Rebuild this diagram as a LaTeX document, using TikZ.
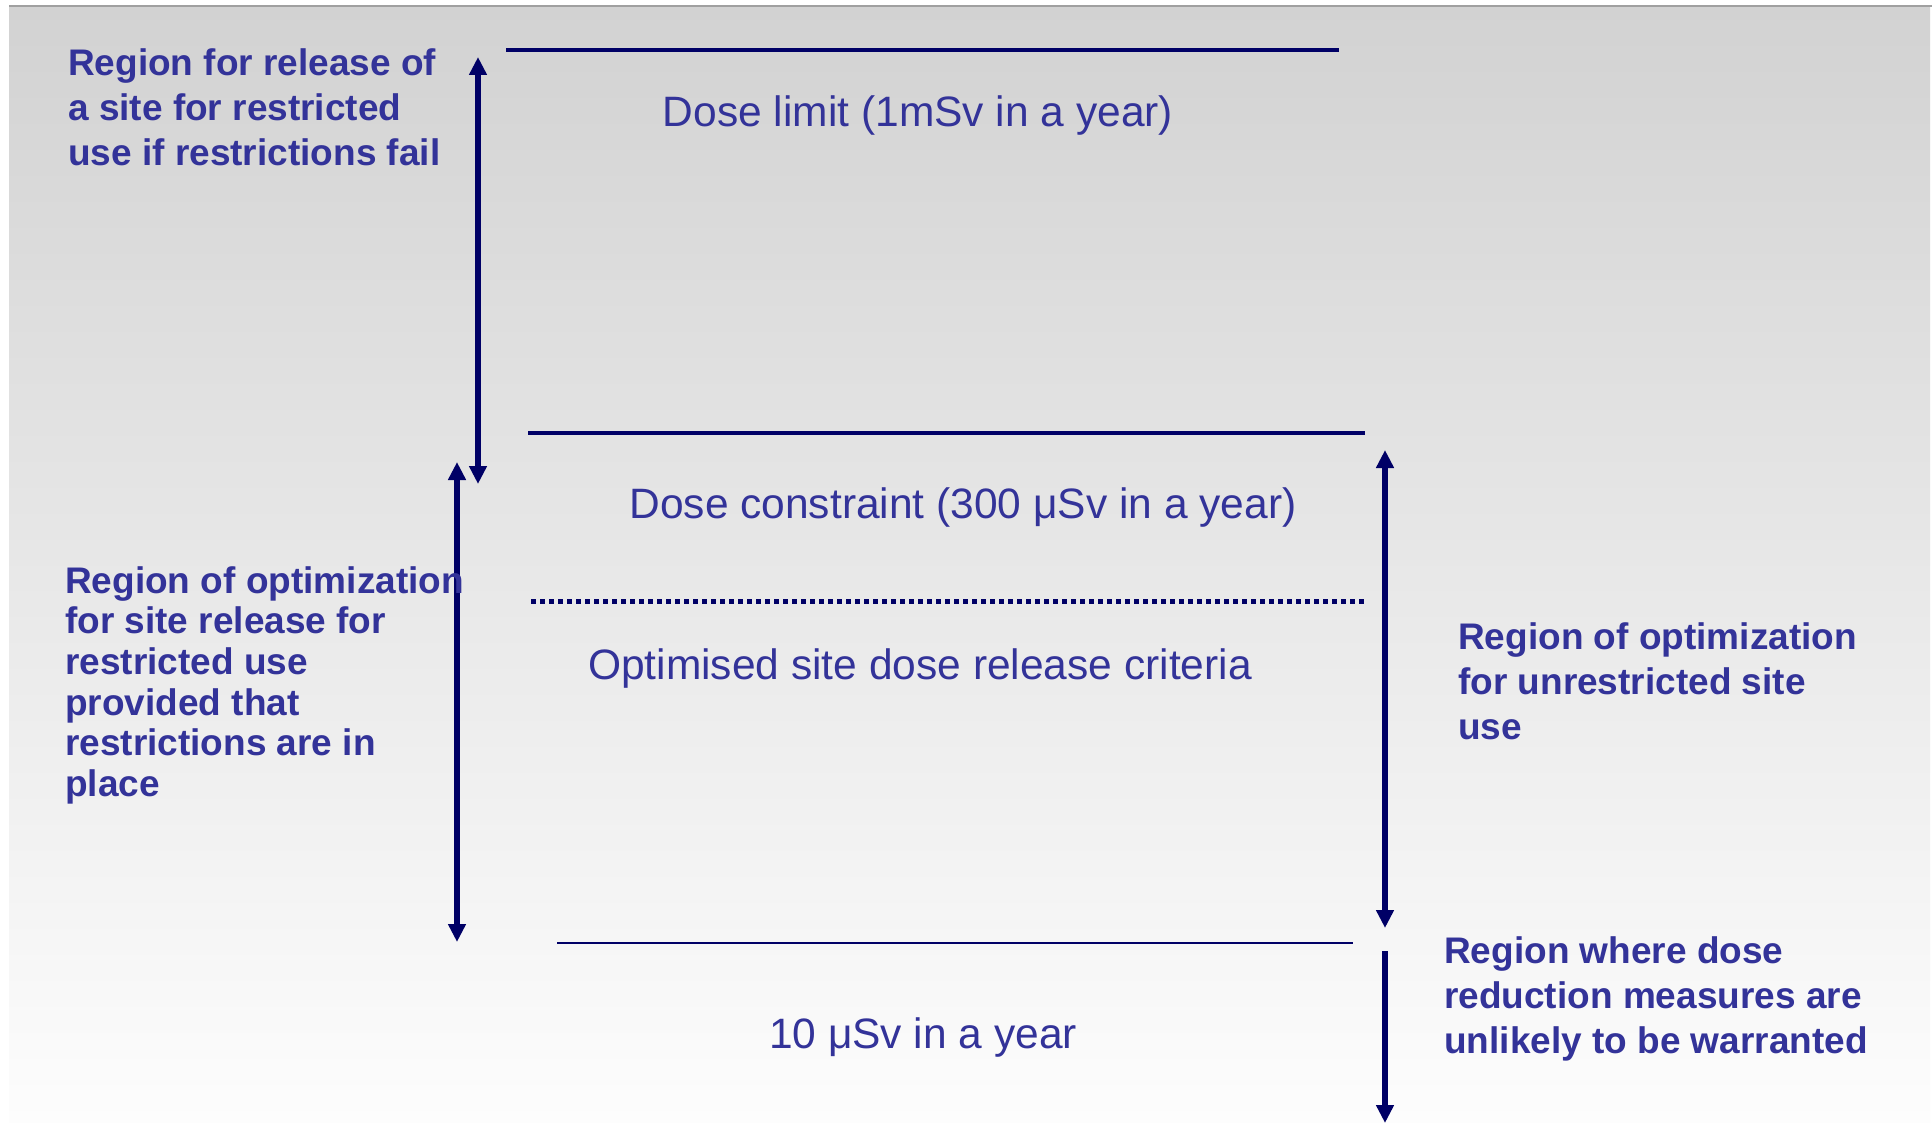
\documentclass[tikz,border=0pt]{standalone}
\usepackage{fontspec}
\setmainfont{Liberation Sans}
\usetikzlibrary{arrows.meta}
\definecolor{inkblue}{RGB}{51,51,153}
\definecolor{navy}{RGB}{0,0,102}
\definecolor{bgtop}{RGB}{210,210,210}
\definecolor{bgbot}{RGB}{253,253,253}
\definecolor{rulegray}{RGB}{160,160,160}
\begin{document}
\begin{tikzpicture}[x=1pt,y=-1pt,
  levelline/.style={draw=navy, line width=4pt},
  thinline/.style={draw=navy, line width=1.5pt},
  dotline/.style={draw=navy, line width=5pt, dash pattern=on 4.5pt off 4.5pt},
  span/.style={draw=navy, line width=6pt, {Triangle[length=18pt,width=17pt]}-{Triangle[length=18pt,width=17pt]}},
  downarrow/.style={draw=navy, line width=6pt, -{Triangle[length=18pt,width=17pt]}},
  level/.style={text=inkblue, font=\fontsize{42.5}{50}\selectfont, inner sep=0pt, anchor=base},
  region/.style={text=inkblue, font=\fontsize{37}{45}\bfseries\selectfont, inner sep=0pt, anchor=north west, align=left},
]
\useasboundingbox (0,0) rectangle (1932,1123);
% page and slide background
\fill[white] (0,0) rectangle (1932,1123);
\shade[top color=bgtop, bottom color=bgbot] (9,7) rectangle (1930,1123);
\fill[rulegray] (9,5) rectangle (1932,7);

% dose levels
\coordinate (limitL) at (506,50);  \coordinate (limitR) at (1339,50);
\coordinate (conL)   at (528,433); \coordinate (conR)   at (1365,433);
\coordinate (optL)   at (531,601); \coordinate (optR)   at (1365,601);
\coordinate (lowL)   at (557,943); \coordinate (lowR)   at (1353,943);
\draw[levelline] (limitL) -- (limitR);
\draw[levelline] (conL) -- (conR);
\draw[dotline] (optL) -- (optR);
\draw[thinline] (lowL) -- (lowR);

% range arrows
\coordinate (a1top) at (478,57);   \coordinate (a1bot) at (478,484);
\coordinate (a2top) at (457,462);  \coordinate (a2bot) at (457,942);
\coordinate (a3top) at (1385,450); \coordinate (a3bot) at (1385,928);
\coordinate (a4top) at (1385,951); \coordinate (a4bot) at (1385,1123);
\draw[span] (a1top) -- (a1bot);
\draw[span] (a2top) -- (a2bot);
\draw[span] (a3top) -- (a3bot);
\draw[downarrow] (a4top) -- (a4bot);

% level labels
\node[level] (doselimit) at (918,127) {Dose limit (1mSv in a year)};
\node[level] (doseconstraint) at (963,518) {Dose constraint (300 μSv in a year)};
\node[level] (optimised) at (920,679) {Optimised site dose release criteria};
\node[level] (tenmicro) at (923,1048) {10 μSv in a year};

% region descriptions
\node[region] (failregion) at (68,48) {Region for release of\\a site for restricted\\use if restrictions fail};
\node[region, font=\fontsize{37}{40.7}\bfseries\selectfont] (restrictedregion) at (65,566)
  {Region of optimization\\for site release for\\restricted use\\provided that\\restrictions are in\\place};
\node[region] (unrestrictedregion) at (1458,622) {Region of optimization\\for unrestricted site\\use};
\node[region] (lowregion) at (1444,936) {Region where dose\\reduction measures are\\unlikely to be warranted};
\end{tikzpicture}
\end{document}
